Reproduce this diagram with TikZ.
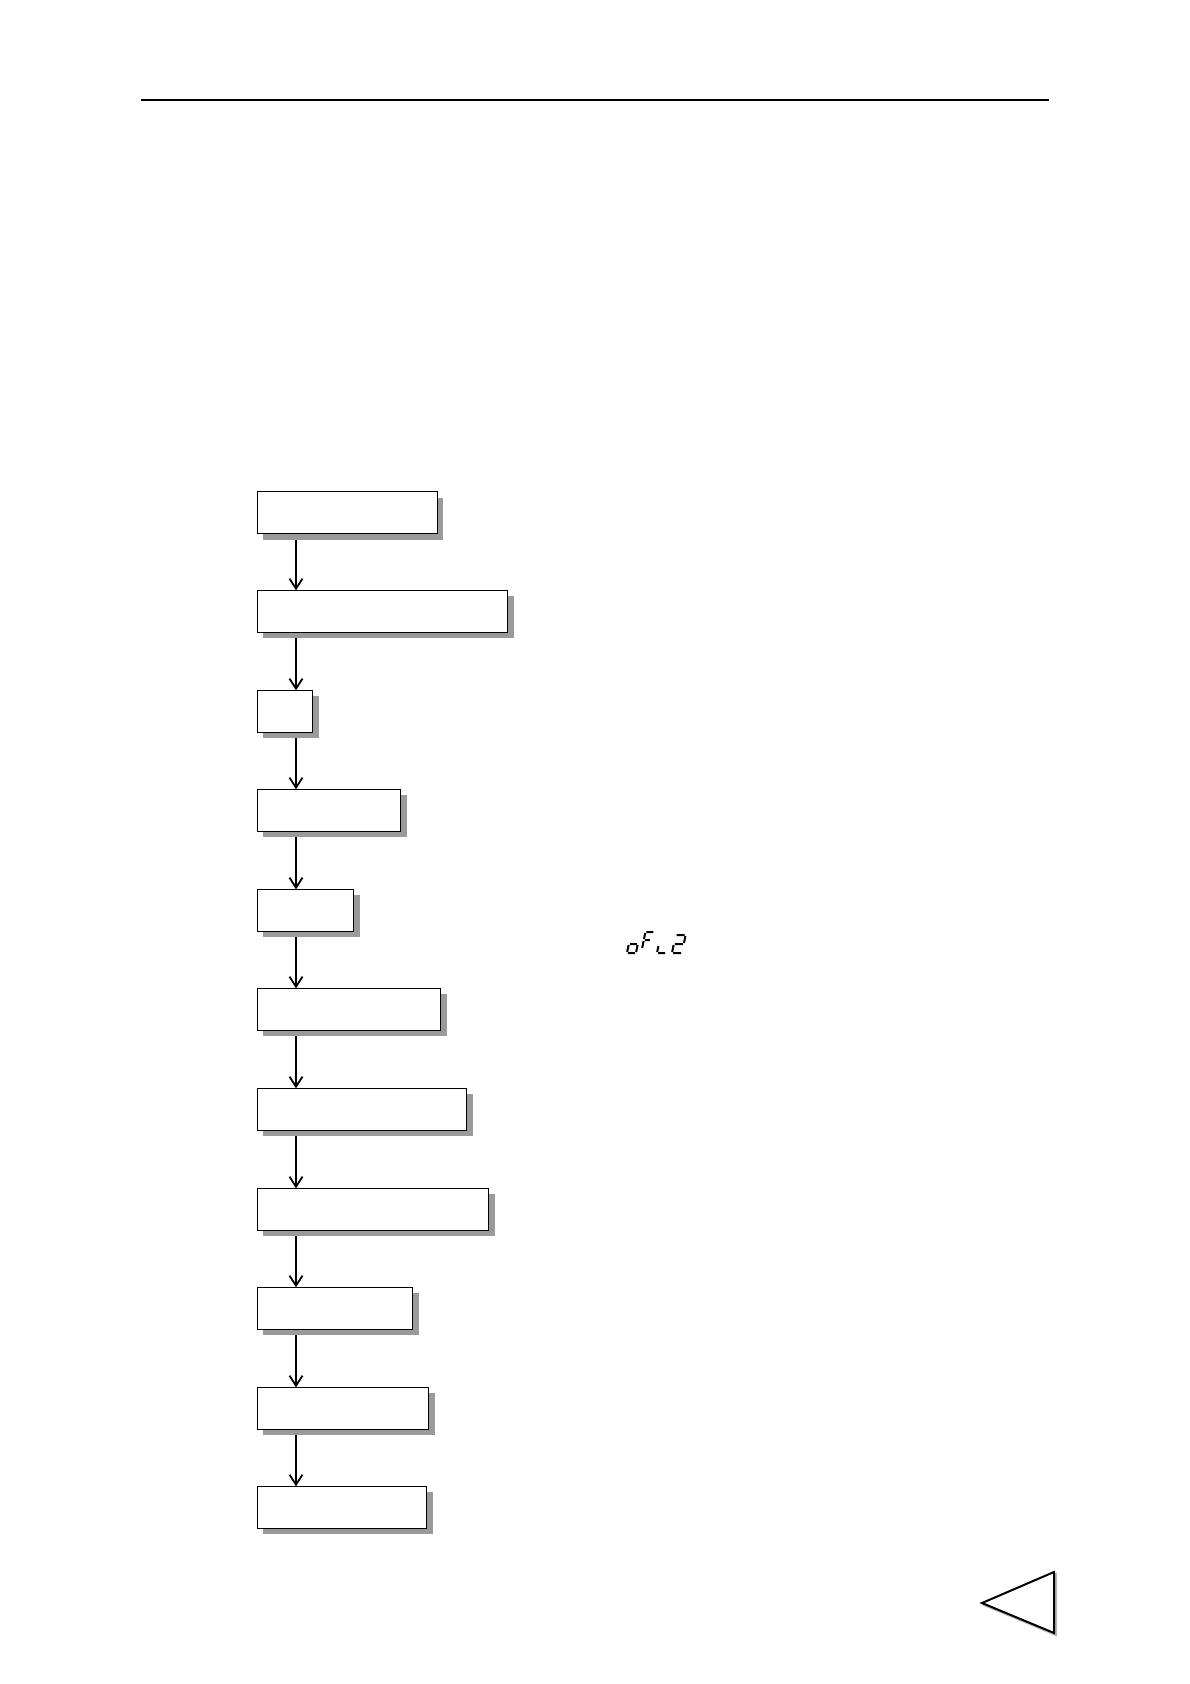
\documentclass[tikz,border=0pt]{standalone}
\usetikzlibrary{arrows.meta,shadows}
\definecolor{shadowgray}{HTML}{9A9A9A}
\begin{document}
\begin{tikzpicture}[x=1pt,y=-1pt,
  stepbox/.style={draw=black,line width=1.3pt,fill=white,rectangle,anchor=north west,
    inner sep=0pt,outer sep=0pt,minimum height=42pt,
    drop shadow={shadow xshift=6pt,shadow yshift=-6pt,fill=shadowgray,opacity=1}},
  arr/.style={line width=1.8pt,-{Straight Barb[length=10pt,width=13pt,line width=1.8pt]}},
  seg/.style={line width=2pt,line cap=butt}]
\useasboundingbox (0,0) rectangle (1190,1684);
% top rule
\coordinate (rl) at (141,99.5);
\coordinate (rr) at (1049,99.5);
\draw[line width=2pt] (rl) -- (rr);
% boxes
\foreach \i/\t/\w in {1/491.7/180,2/590.3/250.4,3/690.3/55.4,4/789.3/143.4,5/889.3/96.4,
  6/988.3/183.4,7/1088.3/209.4,8/1188.3/231.4,9/1287.3/155.4,10/1387.3/171.4,11/1486.3/169.4}
  \node[stepbox,minimum width=\w pt] (b\i) at (257.3,\t) {};
\coordinate (ax) at (296,0);
\foreach \i [evaluate=\i as \j using int(\i+1)] in {1,...,10}
  \draw[arr] ([yshift=-6pt]b\i.south -| ax) -- (b\j.north -| ax);
% seven-segment "oFL2"
\begin{scope}[shift={(627,953)},xslant=0.2,seg]
  \draw (9,-8)--(9,-1) (1,0)--(8,0) (0,-8)--(0,-1) (1,-9)--(8,-9);
\end{scope}
\begin{scope}[shift={(642,949)},xslant=0.2,seg]
  \draw (1,-17)--(8,-17) (0,-8)--(0,-1) (0,-16)--(0,-10) (1,-9)--(6,-9);
\end{scope}
\begin{scope}[shift={(657,953)},xslant=0.2,seg]
  \draw (0,-7)--(0,-1) (1,0)--(8,0);
\end{scope}
\begin{scope}[shift={(672,953)},xslant=0.2,seg]
  \draw (1,-18)--(9,-18) (10,-17)--(10,-10) (1,-9)--(9,-9) (0,-8)--(0,-1) (1,0)--(9,0);
\end{scope}
% triangle with shadow
\coordinate (t1) at (982,1603);
\coordinate (t2) at (1054,1572);
\coordinate (t3) at (1054,1633);
\draw[shadowgray!70,line width=2pt,line join=miter] ([shift={(2,2)}]t1) -- ([shift={(2,2)}]t2) -- ([shift={(2,2)}]t3) -- cycle;
\draw[black,fill=white,line width=2pt,line join=miter] (t1) -- (t2) -- (t3) -- cycle;
\end{tikzpicture}
\end{document}
